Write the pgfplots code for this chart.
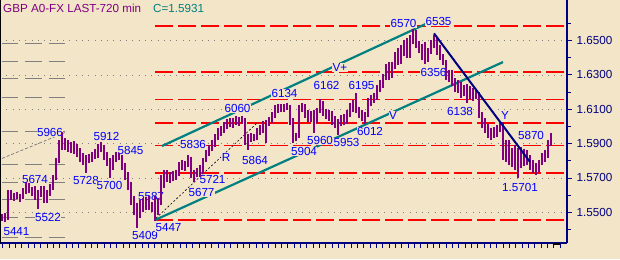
\documentclass[border=0pt]{standalone}
\usepackage{fontspec}
\setmainfont{Liberation Sans}
\usepackage{pgfplots}
\usepackage{pgfplotstable}
\pgfplotsset{compat=1.18}
\definecolor{bg}{RGB}{243,229,199}
\definecolor{candle}{RGB}{128,0,128}
\definecolor{tealc}{RGB}{0,128,128}
\definecolor{navyc}{RGB}{0,0,128}
\definecolor{redc}{RGB}{255,0,0}
\definecolor{grayc}{RGB}{128,128,128}
\definecolor{bluec}{RGB}{0,0,255}
\newcommand\lbl{\fontsize{11.7}{13}\selectfont}
\tikzset{lab/.style={text=bluec, font=\lbl, fill=bg, inner sep=0.4bp}}
\pgfplotstableread{
x o h l c
2 5466 5490 5449 5472
5 5472 5496 5441 5461
8 5461 5629 5455 5612
11 5606 5629 5571 5589
14 5589 5612 5565 5600
17 5600 5618 5577 5583
20 5583 5606 5560 5595
23 5595 5641 5577 5629
26 5629 5674 5606 5641
29 5641 5670 5612 5624
32 5624 5647 5595 5635
35 5635 5653 5571 5600
38 5600 5629 5522 5618
41 5618 5653 5589 5635
44 5635 5653 5554 5565
47 5565 5629 5554 5612
50 5612 5664 5595 5647
53 5647 5717 5629 5699
56 5699 5816 5688 5798
59 5798 5921 5787 5892
62 5892 5966 5862 5909
65 5909 5932 5862 5886
68 5886 5921 5851 5868
71 5868 5909 5845 5892
74 5892 5915 5839 5862
77 5862 5897 5822 5839
80 5839 5874 5793 5810
83 5810 5845 5775 5798
86 5798 5833 5728 5816
89 5816 5839 5787 5804
92 5804 5851 5793 5833
95 5833 5868 5810 5827
98 5827 5897 5816 5880
101 5880 5912 5851 5862
104 5862 5892 5804 5822
107 5822 5851 5769 5787
110 5787 5816 5700 5758
113 5758 5833 5746 5816
116 5816 5851 5793 5833
119 5833 5845 5804 5822
122 5822 5833 5746 5769
125 5769 5787 5688 5711
128 5711 5734 5629 5653
131 5653 5676 5542 5571
134 5571 5595 5484 5513
137 5513 5554 5409 5490
140 5490 5571 5466 5542
143 5542 5583 5501 5530
146 5530 5587 5513 5565
149 5565 5595 5513 5536
152 5536 5560 5501 5519
155 5519 5595 5447 5501
158 5501 5583 5484 5560
161 5560 5717 5542 5688
164 5688 5746 5641 5711
167 5711 5746 5676 5699
170 5699 5734 5670 5717
173 5717 5740 5682 5699
176 5699 5746 5688 5728
179 5728 5793 5711 5775
182 5775 5804 5746 5763
185 5763 5798 5740 5787
188 5787 5836 5763 5804
191 5804 5822 5699 5711
194 5711 5746 5677 5728
197 5728 5758 5705 5717
200 5717 5775 5705 5758
203 5758 5816 5721 5804
206 5804 5862 5793 5851
209 5851 5892 5827 5874
212 5874 5921 5857 5903
215 5903 5956 5880 5938
218 5938 5991 5921 5973
221 5973 6002 5944 5985
224 5985 6025 5961 6008
227 6008 6043 5985 6025
230 6025 6049 5996 6014
233 6014 6049 5991 6031
236 6031 6060 6008 6020
239 6020 6055 6002 6037
242 6037 6060 6014 6025
245 6025 6049 5892 5921
248 5921 5956 5864 5938
251 5938 5961 5909 5926
254 5926 5956 5915 5944
257 5944 5991 5921 5973
260 5973 6008 5950 5991
263 5991 6031 5961 6014
266 6014 6037 5903 6025
269 6025 6055 6002 6043
272 6043 6084 6020 6066
275 6066 6125 6049 6107
278 6107 6130 6078 6119
281 6119 6130 6084 6101
284 6101 6130 6084 6119
287 6119 6134 6095 6107
290 6107 6125 6008 6037
293 6037 6049 5904 5932
296 5932 5961 5915 5950
299 5950 6125 5932 6113
302 6113 6134 6084 6101
305 6101 6130 6049 6072
308 6072 6095 6025 6049
311 6049 6090 6025 6072
314 6072 6095 5960 6037
317 6037 6107 6020 6095
320 6095 6162 6078 6130
323 6130 6148 6060 6078
326 6078 6101 6043 6060
329 6060 6095 6031 6078
332 6078 6090 6008 6031
335 6031 6060 5990 6002
338 6002 6043 5953 6025
341 6025 6066 6002 6049
344 6049 6072 6008 6037
347 6037 6095 6014 6078
350 6078 6136 6055 6119
353 6119 6154 6084 6101
356 6101 6195 6078 6090
359 6090 6113 6049 6066
362 6066 6095 6031 6049
365 6049 6084 6012 6072
368 6072 6165 6055 6148
371 6148 6183 6119 6159
374 6159 6194 6136 6171
377 6171 6241 6154 6224
380 6224 6270 6200 6247
383 6247 6305 6224 6288
386 6288 6363 6270 6340
389 6340 6375 6270 6299
392 6299 6375 6282 6352
395 6352 6433 6334 6410
398 6410 6456 6357 6387
401 6387 6474 6363 6445
404 6445 6503 6410 6486
407 6486 6515 6398 6416
410 6416 6532 6398 6515
413 6515 6570 6480 6544
416 6544 6561 6456 6474
419 6474 6497 6427 6445
422 6445 6480 6387 6462
425 6462 6491 6363 6398
428 6398 6456 6375 6439
431 6439 6503 6422 6486
434 6486 6535 6456 6503
437 6503 6521 6416 6433
440 6433 6474 6387 6404
443 6404 6422 6356 6363
446 6363 6387 6270 6293
449 6293 6328 6258 6311
452 6311 6328 6235 6253
455 6253 6282 6200 6224
458 6224 6270 6194 6247
461 6247 6258 6165 6200
464 6200 6241 6177 6218
467 6218 6247 6138 6189
470 6189 6235 6160 6212
473 6212 6224 6150 6177
476 6177 6212 6159 6189
479 6189 6200 6049 6066
482 6066 6084 5991 6014
485 6014 6049 5961 5991
488 5991 6014 5932 5956
491 5956 5991 5921 5973
494 5973 5996 5932 5956
497 5956 6008 5938 5991
500 5991 6025 5967 6008
503 6008 6025 5804 5833
506 5833 5921 5793 5892
509 5892 5921 5775 5804
512 5804 5874 5763 5851
515 5851 5892 5746 5769
518 5769 5874 5701 5851
521 5851 5880 5758 5787
524 5787 5870 5769 5839
527 5839 5862 5775 5804
530 5804 5833 5746 5769
533 5769 5804 5728 5752
536 5752 5787 5717 5769
539 5769 5804 5734 5787
542 5787 5845 5775 5827
545 5827 5862 5793 5845
548 5845 5921 5816 5903
551 5903 5961 5886 5931
}\candles
\begin{document}
\begin{tikzpicture}[x=1bp,y=1bp]
\fill[bg] (0,-16) rectangle (620,243);
\begin{axis}[
  at={(0,0)}, anchor=south west,
  scale only axis, width=567bp, height=243bp,
  xmin=0, xmax=567, ymin=5321.2, ymax=6736.5,
  axis x line*=bottom, axis y line*=right,
  axis line style={navyc, line width=1.3bp},
  tick style={navyc, line width=0.9bp},
  tick align=outside,
  major tick length=5bp, minor tick length=3.5bp,
  xtick={2.7,9.033,...,561}, xticklabel=\empty,
  ytick={5500,5700,5900,6100,6300,6500},
  yticklabels={1.5500,1.5700,1.5900,1.6100,1.6300,1.6500},
  minor ytick={5400,5600,5800,6000,6200,6400,6600},
  yticklabel style={text=navyc, font=\lbl, anchor=west, inner sep=0pt, xshift=4.5bp},
  ymajorgrids, major grid style={grayc, line width=0.8bp, dash pattern=on 0.9bp off 5.4bp},
]
% gray dashed levels (left)
\foreach \v in {6482,6379,6280,6170,5969,5780,5672,5572,5471,5354}{
  \edef\tmp{\noexpand\addplot[grayc, line width=1.1bp, dash pattern=on 16.5bp off 7bp, forget plot] coordinates {(1.7,\v)(67,\v)};}\tmp
}
\addplot[grayc, line width=0.8bp, dash pattern=on 3bp off 2bp] coordinates {(2,5814)(67,5969)};
% red dashed levels
\foreach \v in {6585,6317,6158,6020,5888,5729,5455}{
  \edef\tmp{\noexpand\addplot[redc, line width=1.3bp, dash pattern=on 18bp off 5bp, forget plot] coordinates {(155,\v)(567,\v)};}\tmp
}
% channel lines
\addplot[tealc, line width=2.2bp] coordinates {(155,5455)(503,6375)};
\addplot[tealc, line width=2.2bp] coordinates {(162,5886)(428,6603)};
\addplot[black, line width=0.6bp, dash pattern=on 2bp off 2bp] coordinates {(156,5466)(257,6020)};
% labels
\node[lab] at (axis cs:16.5,5387) {5441};
\node[lab] at (axis cs:35,5694) {5674};
\node[lab] at (axis cs:48,5472) {5522};
\node[lab] at (axis cs:50,5967) {5966};
\node[lab] at (axis cs:86,5688) {5728};
\node[lab] at (axis cs:106.5,5940) {5912};
\node[lab] at (axis cs:109.5,5654) {5700};
\node[lab] at (axis cs:130.5,5862) {5845};
\node[lab] at (axis cs:145,5367) {5409};
\node[lab] at (axis cs:151,5590) {5587};
\node[lab] at (axis cs:168.5,5412) {5447};
\node[lab] at (axis cs:201.5,5616) {5677};
\node[lab] at (axis cs:212.5,5689) {5721};
\node[lab] at (axis cs:193,5897) {5836};
\node[lab] at (axis cs:226,5820) {R};
\node[lab] at (axis cs:255,5804) {5864};
\node[lab] at (axis cs:237.5,6105) {6060};
\node[lab] at (axis cs:284.5,6193) {6134};
\node[lab] at (axis cs:304,5852) {5904};
\node[lab] at (axis cs:320,5919) {5960};
\node[lab] at (axis cs:326.5,6241) {6162};
\node[lab] at (axis cs:340,6343) {V+};
\node[lab] at (axis cs:346.5,5907) {5953};
\node[lab] at (axis cs:370,5973) {6012};
\node[lab] at (axis cs:361.5,6236) {6195};
\node[lab] at (axis cs:393,6066) {V};
\node[lab] at (axis cs:403.5,6600) {6570};
\node[lab] at (axis cs:438.5,6610) {6535};
\node[lab] at (axis cs:433.5,6313) {6356};
\node[lab] at (axis cs:460,6085) {6138};
\node[lab] at (axis cs:505,6066) {Y};
\node[lab] at (axis cs:531,5950) {5870};
\node[lab] at (axis cs:520,5645) {1.5701};
% candles: wicks
\addplot[draw=none, no markers, forget plot,
  error bars/.cd, y dir=plus, y explicit, error mark=none,
  error bar style={draw=candle, line width=1.2bp}]
  table[x=x, y=l, y error expr={\thisrow{h}-\thisrow{l}}] {\candles};
% candles: bodies
\addplot[draw=none, no markers, forget plot,
  error bars/.cd, y dir=both, y explicit, error mark=none,
  error bar style={draw=candle, line width=2.8bp}]
  table[x=x, y expr={0.5*(\thisrow{o}+\thisrow{c})}, y error expr={max(0.5*abs(\thisrow{c}-\thisrow{o}),2.5)}] {\candles};
% down trend line
\addplot[navyc, line width=2bp] coordinates {(434,6542)(530,5793)};
\end{axis}
\draw[black, line width=1.2bp] (0.6,0) -- (0.6,243);
\draw[black, line width=2bp] (553,-1) -- (560,-1);
\node[anchor=west, text=candle, font=\lbl, inner sep=0pt] at (3,235) {GBP A0-FX LAST-720 min};
\node[anchor=west, text=tealc, font=\lbl, inner sep=0pt] at (153,235) {C=1.5931};
\pgfresetboundingbox
\path (0,-16) rectangle (620,243);
\end{tikzpicture}
\end{document}
